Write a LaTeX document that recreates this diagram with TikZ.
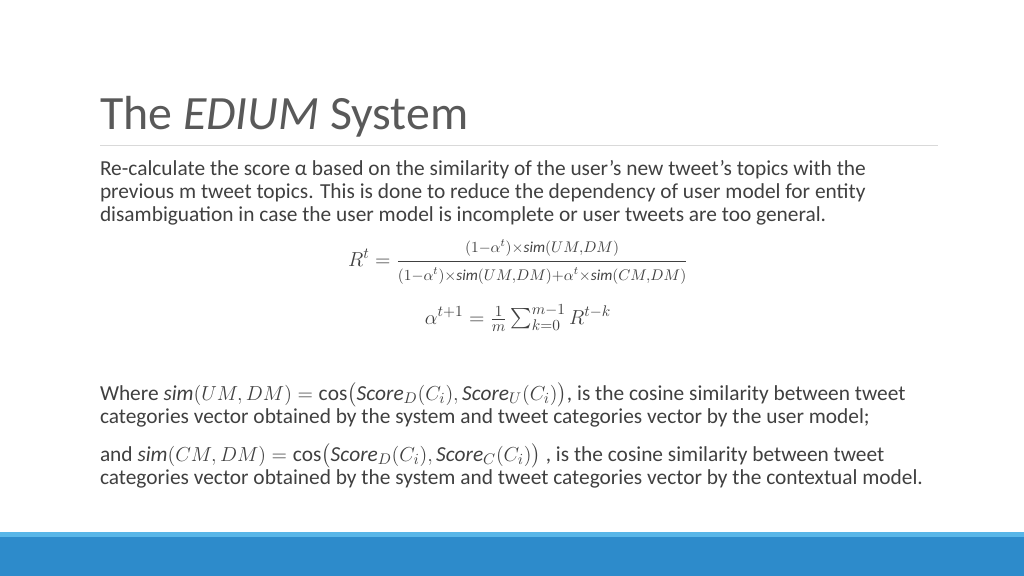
\documentclass[tikz,border=0pt]{standalone}
\usepackage{amsmath}
\usepackage{fontspec}
\setmainfont{Carlito}
\usetikzlibrary{positioning}
\definecolor{titlegray}{HTML}{595959}
\definecolor{bodygray}{HTML}{404040}
\definecolor{barblue}{HTML}{2D8BCB}
\definecolor{striplight}{HTML}{58B6E8}
\newcommand{\simf}{\mathit{sim}}
\newcommand{\scoref}{\mathit{Score}}
\begin{document}
\begin{tikzpicture}[x=0.025cm,y=-0.025cm,
    every node/.style={inner sep=0pt,outer sep=0pt},
    bodyline/.style={anchor=base west,font=\fontsize{15.2}{17}\selectfont,text=bodygray},
    formula/.style={font=\fontsize{15.5}{18}\selectfont,text=bodygray}
  ]
  \useasboundingbox (0,0) rectangle (1024,576);
  \fill[white] (0,0) rectangle (1024,576);

  % title and rule
  \node[anchor=base west,font=\fontsize{34}{40}\selectfont,text=titlegray] (title) at (100,130) {The \textit{EDIUM} System};
  \coordinate (ruleL) at (100,145);
  \coordinate (ruleR) at (938,145);
  \draw[black!15,line width=0.6pt] (ruleL) -- (ruleR);

  % first paragraph
  \node[bodyline] (p1) at (100,176) {Re-calculate the score α based on the similarity of the user’s new tweet’s topics with the};
  \node[bodyline] (p2) at (100,199) {previous m tweet topics. This is done to reduce the dependency of user model for entity};
  \node[bodyline] (p3) at (100,222) {disambiguation in case the user model is incomplete or user tweets are too general.};

  % formulas
  \node[formula] (rt) at (518,262) {$R^t =
    \dfrac{\scriptstyle(1-\alpha^t)\times\simf(UM,DM)}{\scriptstyle(1-\alpha^t)\times\simf(UM,DM)+\alpha^t\times\simf(CM,DM)}$};
  \node[formula] (at) at (518,318) {$\alpha^{t+1} = \frac{1}{m}\textstyle\sum_{k=0}^{m-1} R^{t-k}$};

  % second paragraph
  \node[bodyline] (w1) at (100,400) {Where $\simf(UM,DM)=\cos\bigl(\scoref_D(C_i),\scoref_U(C_i)\bigr)$, is the cosine similarity between tweet};
  \node[bodyline] (w2) at (100,423) {categories vector obtained by the system and tweet categories vector by the user model;};
  \node[bodyline] (w3) at (100,461) {and $\simf(CM,DM)=\cos\bigl(\scoref_D(C_i),\scoref_C(C_i)\bigr)$ , is the cosine similarity between tweet};
  \node[bodyline] (w4) at (100,484) {categories vector obtained by the system and tweet categories vector by the contextual model.};

  % bottom bar
  \fill[striplight] (0,532) rectangle (1024,537);
  \fill[barblue] (0,537) rectangle (1024,576);
\end{tikzpicture}
\end{document}
